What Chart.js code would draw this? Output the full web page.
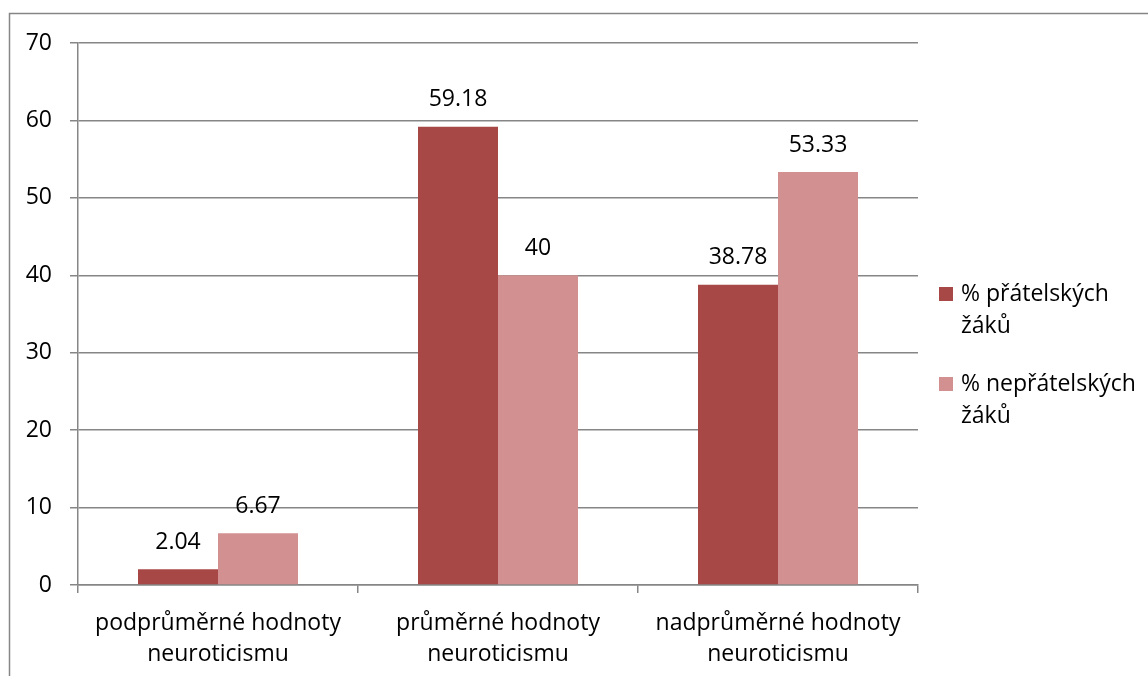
<!DOCTYPE html>
<html>
<head>
<meta charset="utf-8">
<script src="https://cdn.jsdelivr.net/npm/chart.js@4/dist/chart.umd.min.js"></script>
<style>
  html, body { margin: 0; padding: 0; background: #fff; }
  #wrap { position: relative; width: 1148px; height: 676px; }
</style>
</head>
<body>
<div id="wrap"><canvas id="neuroChart" width="1148" height="676"></canvas></div>
<script>
// --- data ---
const categories = [
  ['podprůměrné hodnoty', 'neuroticismu'],
  ['průměrné hodnoty', 'neuroticismu'],
  ['nadprůměrné hodnoty', 'neuroticismu']
];
const seriesNames = [['% přátelských', 'žáků'], ['% nepřátelských', 'žáků']];
const friendly = [2.04, 59.18, 38.78];
const hostile = [6.67, 40, 53.33];
const yTicks = [0, 10, 20, 30, 40, 50, 60, 70];

const COLORS = { dark: '#A84846', light: '#D29190', grid: '#868686', text: '#000000' };
const FONT = '"Open Sans", "DejaVu Sans", sans-serif';

// outer frame of the chart object (runs off the right/bottom edge)
const framePlugin = {
  id: 'frame',
  beforeDraw(chart) {
    const ctx = chart.ctx;
    ctx.save();
    ctx.strokeStyle = COLORS.grid;
    ctx.lineWidth = 1.5;
    ctx.strokeRect(9.5, 13.5, 1300, 800);
    ctx.restore();
  }
};

// numbers above every bar
const valueLabels = {
  id: 'valueLabels',
  afterDatasetsDraw(chart) {
    const ctx = chart.ctx;
    ctx.save();
    ctx.font = '23px ' + FONT;
    ctx.fillStyle = COLORS.text;
    ctx.textAlign = 'center';
    ctx.textBaseline = 'middle';
    chart.data.datasets.forEach((ds, i) => {
      chart.getDatasetMeta(i).data.forEach((bar, j) => {
        ctx.fillText(String(ds.data[j]), bar.x, bar.y - 27);
      });
    });
    ctx.restore();
  }
};

// legend on the right with wrapped labels
const sideLegend = {
  id: 'sideLegend',
  afterDraw(chart) {
    const ctx = chart.ctx;
    const x = chart.chartArea.right + 21;
    const rows = [294, 384];
    ctx.save();
    ctx.font = '23px ' + FONT;
    ctx.textAlign = 'left';
    ctx.textBaseline = 'middle';
    chart.data.datasets.forEach((ds, i) => {
      const y = rows[i];
      ctx.fillStyle = ds.backgroundColor;
      ctx.fillRect(x, y - 7, 14, 14);
      ctx.fillStyle = COLORS.text;
      ds.label.forEach((line, k) => ctx.fillText(line, x + 22, y + k * 32));
    });
    ctx.restore();
  }
};

new Chart(document.getElementById('neuroChart'), {
  type: 'bar',
  data: {
    labels: categories,
    datasets: [
      { label: seriesNames[0], data: friendly, backgroundColor: COLORS.dark,
        categoryPercentage: 160 / 280, barPercentage: 1 },
      { label: seriesNames[1], data: hostile, backgroundColor: COLORS.light,
        categoryPercentage: 160 / 280, barPercentage: 1 }
    ]
  },
  options: {
    responsive: false,
    animation: false,
    layout: { padding: { top: 43, right: 230, left: 0, bottom: 0 } },
    plugins: { legend: { display: false }, tooltip: { enabled: false } },
    scales: {
      x: {
        afterFit(scale) { scale.height = 91; },
        grid: { drawOnChartArea: false, drawTicks: true, tickLength: 8, color: COLORS.grid, lineWidth: 1.5, offset: true },
        border: { color: COLORS.grid, width: 1.5 },
        ticks: { color: COLORS.text, font: { family: FONT, size: 23, lineHeight: 1.36 }, padding: 15, maxRotation: 0 }
      },
      y: {
        min: 0,
        max: 70,
        afterFit(scale) { scale.width = 78; },
        afterBuildTicks(scale) { scale.ticks = yTicks.map(v => ({ value: v })); },
        grid: { color: COLORS.grid, lineWidth: 1.5, tickLength: 8 },
        border: { color: COLORS.grid, width: 1.5 },
        ticks: { color: COLORS.text, font: { family: FONT, size: 23 }, padding: 18 }
      }
    }
  },
  plugins: [framePlugin, valueLabels, sideLegend]
});
</script>
</body>
</html>
